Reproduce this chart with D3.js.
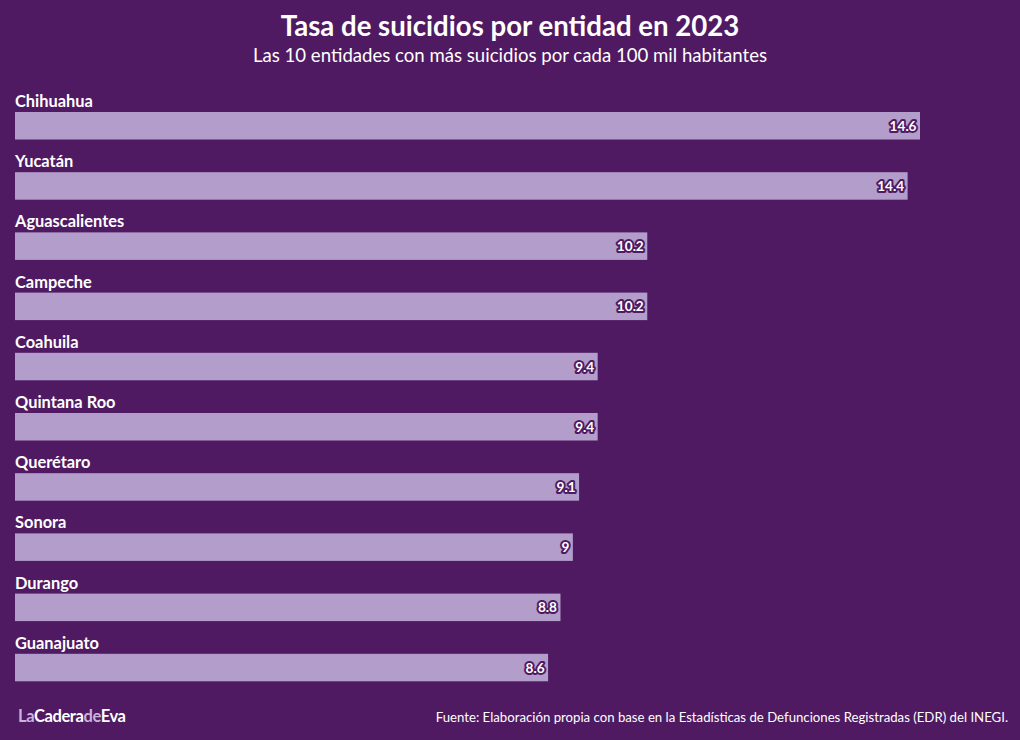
<!DOCTYPE html>
<html><head><meta charset="utf-8">
<script src="https://cdn.jsdelivr.net/npm/d3@7"></script>
<style>
html,body{margin:0;padding:0;background:#4f1a62;}
svg{display:block;font-family:Lato,"Open Sans",sans-serif;}
</style></head>
<body><svg id="c" width="1020" height="740"></svg>
<script>
const entidades = ["Chihuahua","Yucatán","Aguascalientes","Campeche","Coahuila","Quintana Roo","Querétaro","Sonora","Durango","Guanajuato"];
const tasas = [14.6,14.4,10.2,10.2,9.4,9.4,9.1,9,8.8,8.6];
const titulo = "Tasa de suicidios por entidad en 2023";
const subtitulo = "Las 10 entidades con más suicidios por cada 100 mil habitantes";
const fuente = "Fuente: Elaboración propia con base en la Estadísticas de Defunciones Registradas (EDR) del INEGI.";

const bg = "#4f1a62", barColor = "#b39dca";
const svg = d3.select("#c");
svg.append("rect").attr("width",1020).attr("height",740).attr("fill",bg);

svg.append("text").attr("x",510).attr("y",36).attr("text-anchor","middle")
  .attr("fill","#fff").attr("font-weight",700).attr("font-size",27.6).text(titulo);
svg.append("text").attr("x",510).attr("y",62).attr("text-anchor","middle")
  .attr("fill","#fff").attr("font-size",18.6).text(subtitulo);

const x = d3.scaleLinear().domain([0,14.6]).range([15,920]);
const rowH = 60.2, barH = 27.5, top0 = 112;
const y = d3.scaleLinear().domain([0,1]).range([top0, top0+rowH]);
const g = svg.append("g");
entidades.forEach((e,i)=>{
  const yb = y(i);
  g.append("text").attr("x",15).attr("y",yb-5).attr("fill","#fff")
    .attr("font-weight",700).attr("font-size",16.4).text(e);
  g.append("rect").attr("x",x(0)).attr("y",yb).attr("width",x(tasas[i])-x(0)).attr("height",barH)
    .attr("fill",barColor);
  g.append("text").attr("x",x(tasas[i])-3.5).attr("y",yb+barH/2+5).attr("text-anchor","end")
    .attr("font-weight",700).attr("font-size",13.6)
    .attr("fill","#fff").attr("stroke",bg).attr("stroke-width",4).attr("stroke-linejoin","round")
    .attr("paint-order","stroke").text(d3.format("")(tasas[i]));
});

svg.append("text").attr("x",1008).attr("y",722).attr("text-anchor","end")
  .attr("fill","#fff").attr("font-size",13.2).text(fuente);
const logo = svg.append("text").attr("x",18).attr("y",722).attr("font-weight",700)
  .attr("font-size",16.5).attr("letter-spacing",-0.4);
logo.append("tspan").attr("fill","#c9b3dd").text("La");
logo.append("tspan").attr("fill","#fff").text("Cadera");
logo.append("tspan").attr("fill","#c9b3dd").text("de");
logo.append("tspan").attr("fill","#fff").text("Eva");
</script></body></html>
